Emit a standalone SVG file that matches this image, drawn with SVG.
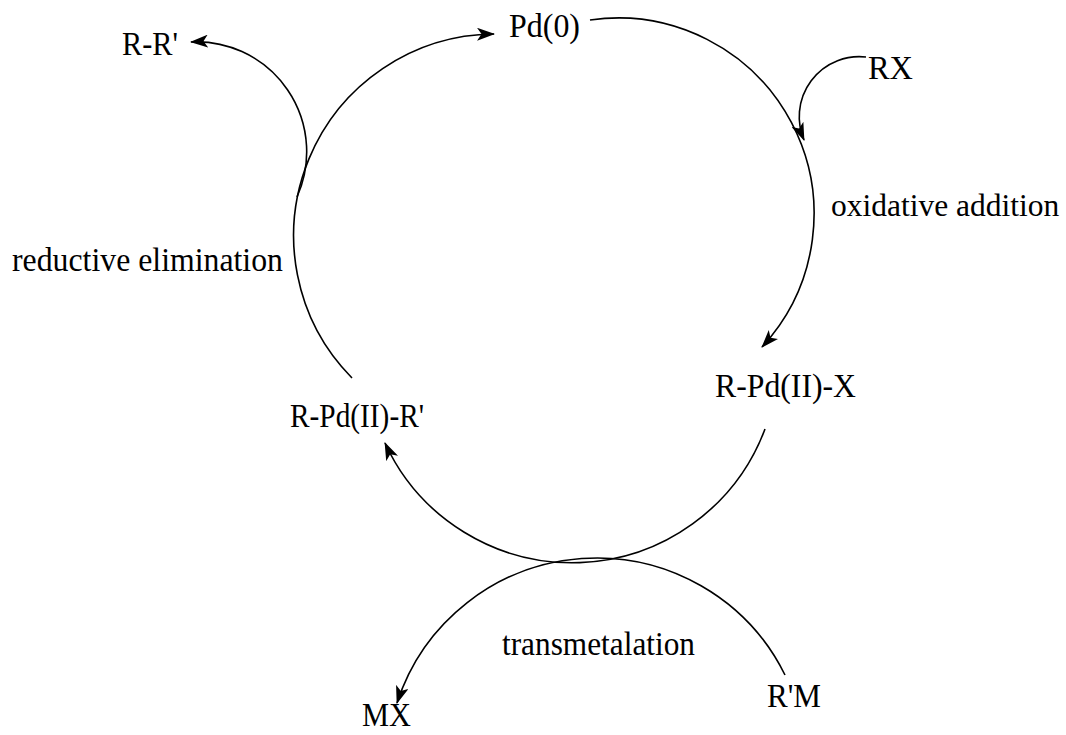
<svg xmlns="http://www.w3.org/2000/svg" width="1066" height="735" viewBox="0 0 1066 735">
  <style>
    .lbl { font-family: "Liberation Serif", "Times New Roman", serif; font-size: 33px; fill: #000; }
    .arc { fill: none; stroke: #000; stroke-width: 1.6; }
  </style>
  <defs>
    <marker id="ah" markerUnits="userSpaceOnUse" viewBox="0 0 18 13" markerWidth="18" markerHeight="13" refX="17" refY="6.5" orient="auto">
      <path d="M0,0 L18,6.5 L0,13 L4.5,6.5 z" fill="#000"/>
    </marker>
  </defs>
  <rect width="1066" height="735" fill="#fff"/>
  <g id="connectors">
    <path class="arc" d="M352,378 A202,202 0 0 1 494,34" marker-end="url(#ah)"/>
    <path class="arc" d="M590,20 A196,196 0 0 1 762,347" marker-end="url(#ah)"/>
    <path class="arc" d="M866,57 A60,60 0 0 0 804,140" marker-end="url(#ah)"/>
    <path class="arc" d="M297,197 A110,110 0 0 0 191,42" marker-end="url(#ah)"/>
    <path class="arc" d="M765,429 A206,206 0 0 1 385,443" marker-end="url(#ah)"/>
    <path class="arc" d="M785,675 A210,210 0 0 0 397,703" marker-end="url(#ah)"/>
  </g>
  <g id="pd0"><text class="lbl" x="509" y="37" textLength="71" lengthAdjust="spacingAndGlyphs">Pd(0)</text></g>
  <g id="rr"><text class="lbl" x="122" y="55" textLength="56" lengthAdjust="spacingAndGlyphs">R-R'</text></g>
  <g id="rx"><text class="lbl" x="868" y="79" textLength="45" lengthAdjust="spacingAndGlyphs">RX</text></g>
  <g id="oxadd"><text class="lbl" x="831" y="216" style="font-size:31.5px">oxidative addition</text></g>
  <g id="redelim"><text class="lbl" x="12" y="271" textLength="271" lengthAdjust="spacingAndGlyphs">reductive elimination</text></g>
  <g id="rpdx"><text class="lbl" x="715" y="397" textLength="141" lengthAdjust="spacingAndGlyphs">R-Pd(II)-X</text></g>
  <g id="rpdr"><text class="lbl" x="290" y="427" textLength="134" lengthAdjust="spacingAndGlyphs">R-Pd(II)-R'</text></g>
  <g id="transmet"><text class="lbl" x="502" y="655" textLength="193" lengthAdjust="spacingAndGlyphs">transmetalation</text></g>
  <g id="rm"><text class="lbl" x="767" y="707" textLength="54" lengthAdjust="spacingAndGlyphs">R'M</text></g>
  <g id="mx"><text class="lbl" x="362" y="726" textLength="49" lengthAdjust="spacingAndGlyphs">MX</text></g>
</svg>
